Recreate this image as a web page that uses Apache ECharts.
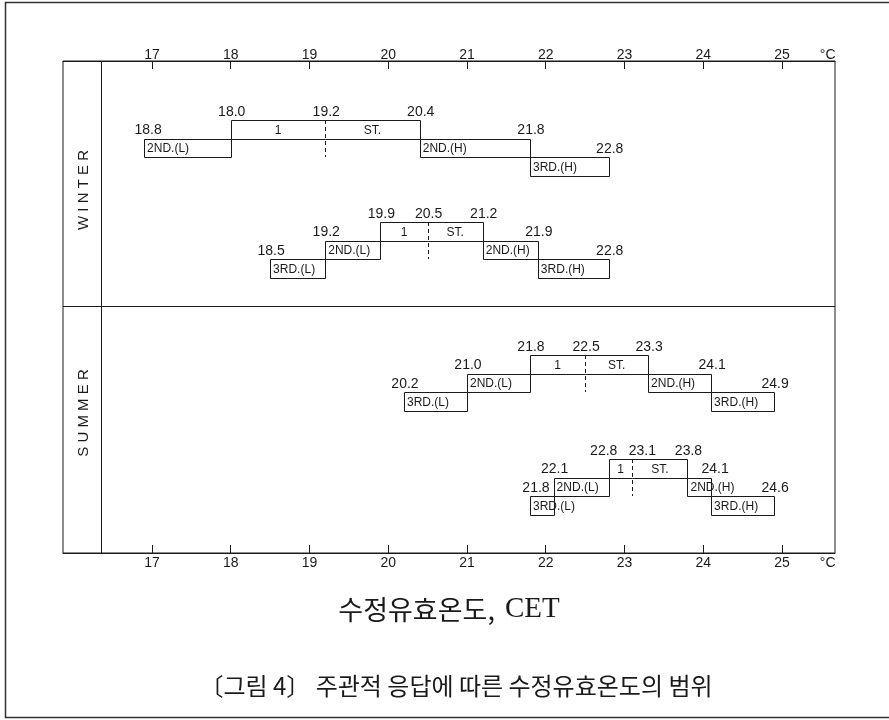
<!DOCTYPE html>
<html>
<head>
<meta charset="utf-8">
<script src="https://cdn.jsdelivr.net/npm/echarts@6/dist/echarts.min.js"></script>
<style>
html,body{margin:0;padding:0;background:#fff;}
#chart{width:889px;height:720px;}
</style>
</head>
<body>
<div id="chart"></div>
<script>
// ---------------- data ----------------
const xTicks = [17, 18, 19, 20, 21, 22, 23, 24, 25];
const unitLabel = '°C';
const unitPos = 25.58;
const seasons = ['WINTER', 'SUMMER'];
const boxNames = ['3RD.(L)', '2ND.(L)', '1', 'ST.', '2ND.(H)', '3RD.(H)'];

// boundaries: 3RD(L) start, 2ND(L) start, 1 start, ST start, 2ND(H) start, 3RD(H) start, 3RD(H) end
const winterA = [null, 16.9, 18.0, 19.2, 20.4, 21.8, 22.8];
const winterALabels = ['', '18.8', '18.0', '19.2', '20.4', '21.8', '22.8'];
const winterB = [18.5, 19.2, 19.9, 20.5, 21.2, 21.9, 22.8];
const winterBLabels = ['18.5', '19.2', '19.9', '20.5', '21.2', '21.9', '22.8'];
const summerA = [20.2, 21.0, 21.8, 22.5, 23.3, 24.1, 24.9];
const summerALabels = ['20.2', '21.0', '21.8', '22.5', '23.3', '24.1', '24.9'];
const summerB = [21.8, 22.1, 22.8, 23.1, 23.8, 24.1, 24.9];
const summerBLabels = ['21.8', '22.1', '22.8', '23.1', '23.8', '24.1', '24.6'];

const axisTitleKo = '수정유효온도,';
const axisTitleEn = 'CET';
const caption = '〔그림 4〕 주관적 응답에 따른 수정유효온도의 범위';

// ---------------- layout ----------------
const groupBounds = [winterA, winterB, summerA, summerB];
const groupLabels = [winterALabels, winterBLabels, summerALabels, summerBLabels];
const GROUP_TOP = [59, 161, 294, 398];   // y-units (top of row 0)
const ROW_H = 18.5;
const DIVIDER_Y = 245;
const LABEL_COL_X = 16.353;
const BOX_ROW = [2, 1, 0, 0, 1, 2];
const BOUND_ROW = [2, 1, 0, 0, 0, 1, 2];
const INK = '#1a1a1a';
const SANS = 'Liberation Sans, Arial, sans-serif';
// small label nudges (px) to avoid overlaps, as in the original
const NUDGE = {'3-2': -6, '3-3': 9, '3-5': 3, '0-1': 3};

const cr = v => Math.round(v) + 0.5;

// build series data
const boxData = [];
const dashData = [];
const labelData = [];
groupBounds.forEach((b, g) => {
  for (let i = 0; i < 6; i++) {
    if (b[i] != null && b[i + 1] != null) boxData.push([b[i], b[i + 1], g, i]);
  }
  dashData.push([b[3], g]);
  for (let i = 0; i < 7; i++) {
    if (b[i] != null) labelData.push([b[i], g, i]);
  }
});

function renderBox(params, api) {
  const x0 = api.value(0), x1 = api.value(1), g = api.value(2), i = api.value(3);
  const top = GROUP_TOP[g] + BOX_ROW[i] * ROW_H;
  const a = api.coord([x0, top]);
  const b = api.coord([x1, top + ROW_H]);
  const ax = cr(a[0]), ay = cr(a[1]), bx = cr(b[0]), by = cr(b[1]);
  const children = [];
  const ls = {stroke: INK, lineWidth: 1, fill: null};
  if (i === 2) {
    children.push({type: 'polyline', shape: {points: [[bx, ay], [ax, ay], [ax, by], [bx, by]]}, style: ls});
  } else if (i === 3) {
    children.push({type: 'polyline', shape: {points: [[ax, ay], [bx, ay], [bx, by], [ax, by]]}, style: ls});
  } else {
    children.push({type: 'rect', shape: {x: ax, y: ay, width: bx - ax, height: by - ay}, style: {stroke: INK, lineWidth: 1, fill: 'none'}});
  }
  const centered = (i === 2 || i === 3);
  children.push({
    type: 'text',
    x: centered ? (a[0] + b[0]) / 2 : a[0] + 3,
    y: (a[1] + b[1]) / 2 + 1,
    style: {text: boxNames[i], fill: INK, fontSize: 12, fontFamily: SANS,
            align: centered ? 'center' : 'left', verticalAlign: 'middle'}
  });
  return {type: 'group', children: children};
}

function renderDash(params, api) {
  const x = api.value(0), g = api.value(1);
  const a = api.coord([x, GROUP_TOP[g]]);
  const b = api.coord([x, GROUP_TOP[g] + 2 * ROW_H]);
  return {type: 'line', shape: {x1: cr(a[0]), y1: a[1], x2: cr(b[0]), y2: b[1]},
          style: {stroke: INK, lineWidth: 1, lineDash: [4, 3]}};
}

function renderLabel(params, api) {
  const x = api.value(0), g = api.value(1), i = api.value(2);
  const txt = groupLabels[g][i];
  let p, align = 'center', va = 'bottom';
  if (g === 3 && i === 0) {
    // crowded: placed left of the 2ND(L) box, in its row
    const q = api.coord([groupBounds[g][1], GROUP_TOP[g] + 1.5 * ROW_H]);
    p = [q[0] - 4, q[1] + 1];
    align = 'right'; va = 'middle';
  } else {
    const q = api.coord([x, GROUP_TOP[g] + BOUND_ROW[i] * ROW_H]);
    p = [q[0] + (NUDGE[g + '-' + i] || 0) + 1, q[1] - 1];
  }
  return {type: 'text', x: p[0], y: p[1],
          style: {text: txt, fill: INK, fontSize: 14, fontFamily: SANS, align: align, verticalAlign: va}};
}

const X_MIN = 15.87, X_MAX = 25.673;
function xAxisCfg(pos) {
  return {
    type: 'value', position: pos, min: X_MIN, max: X_MAX,
    axisLine: {show: true, lineStyle: {color: INK, width: 1}},
    axisTick: {show: true, inside: true, length: 8, customValues: xTicks, lineStyle: {color: INK, width: 1}},
    axisLabel: {customValues: xTicks.concat([unitPos]), margin: pos === 'top' ? -1 : 3,
                formatter: v => (v > 25.5 ? unitLabel : String(Math.round(v))),
                color: INK, fontSize: 14, fontFamily: SANS},
    splitLine: {show: false}
  };
}

const bottomAxis = xAxisCfg('bottom');
bottomAxis.name = '{k|' + axisTitleKo + '}   {e|' + axisTitleEn + '}';
bottomAxis.nameLocation = 'middle';
bottomAxis.nameGap = 42;
bottomAxis.nameTextStyle = {
  color: INK,
  rich: {
    k: {fontFamily: 'Noto Sans CJK KR', fontSize: 27, color: INK},
    e: {fontFamily: 'Liberation Serif, serif', fontSize: 29, color: INK}
  }
};

const option = {
  animation: false,
  backgroundColor: '#ffffff',
  grid: {left: 63, right: 54, top: 61, bottom: 167, show: true, borderColor: INK, borderWidth: 1, backgroundColor: 'transparent'},
  xAxis: [xAxisCfg('top'), bottomAxis],
  yAxis: {type: 'value', min: 0, max: 492, inverse: true, show: false},
  graphic: [
    {type: 'rect', shape: {x: 5.5, y: 2.5, width: 900, height: 715}, style: {fill: 'none', stroke: '#333', lineWidth: 1.5}, z: -1},
    {type: 'text', x: 84, y: 190, rotation: Math.PI / 2,
     style: {text: seasons[0].split('').join(' '), fill: INK, fontSize: 15, fontFamily: SANS, align: 'center', verticalAlign: 'middle'}},
    {type: 'text', x: 84, y: 413, rotation: Math.PI / 2,
     style: {text: seasons[1].split('').join(' '), fill: INK, fontSize: 15, fontFamily: SANS, align: 'center', verticalAlign: 'middle'}},
    {type: 'text', x: 456, y: 686,
     style: {text: caption, fill: INK, fontSize: 24, fontFamily: 'Noto Sans CJK KR', align: 'center', verticalAlign: 'middle'}}
  ],
  series: [
    {
      type: 'custom', name: 'boxes', renderItem: renderBox, data: boxData,
      encode: {x: [0, 1]}, silent: true,
      markLine: {
        silent: true, symbol: ['none', 'none'], label: {show: false},
        lineStyle: {color: INK, type: 'solid', width: 1},
        data: [{xAxis: LABEL_COL_X}, {yAxis: DIVIDER_Y}]
      }
    },
    {type: 'custom', name: 'dividers', renderItem: renderDash, data: dashData, encode: {x: 0}, silent: true},
    {type: 'custom', name: 'labels', renderItem: renderLabel, data: labelData, encode: {x: 0}, silent: true}
  ]
};

const chart = echarts.init(document.getElementById('chart'), null, {renderer: 'canvas'});
chart.setOption(option);
</script>
</body>
</html>
